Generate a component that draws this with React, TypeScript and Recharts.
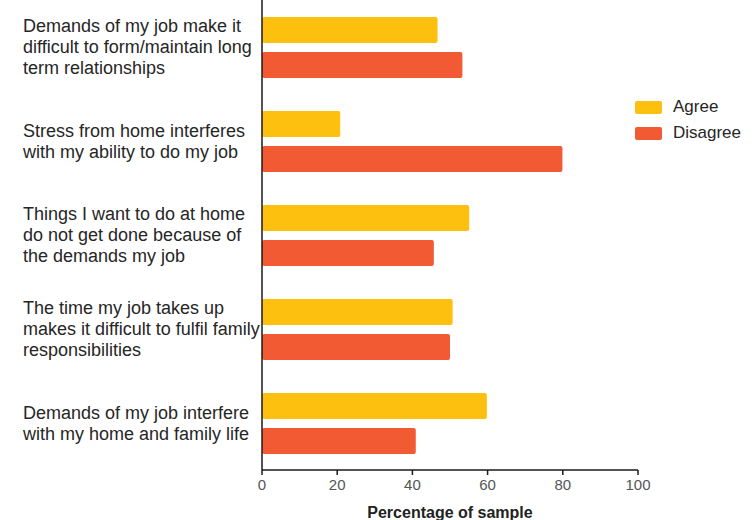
import React from 'react';
import { BarChart, Bar, XAxis, YAxis, Legend } from 'recharts';

const categories: string[] = [
  'Demands of my job make it\ndifficult to form/maintain long\nterm relationships',
  'Stress from home interferes\nwith my ability to do my job',
  'Things I want to do at home\ndo not get done because of\nthe demands my job',
  'The time my job takes up\nmakes it difficult to fulfil family\nresponsibilities',
  'Demands of my job interfere\nwith my home and family life',
];
const agree: number[] = [46.7, 20.8, 55.1, 50.7, 59.8];
const disagree: number[] = [53.3, 79.9, 45.7, 50.0, 40.9];
const xTicks: number[] = [0, 20, 40, 60, 80, 100];

const data = categories.map((name, i) => ({ name, Agree: agree[i], Disagree: disagree[i] }));

const FONT = '"Liberation Sans", Arial, Helvetica, sans-serif';
const AGREE_COLOR = '#FDC00F';
const DISAGREE_COLOR = '#F15A33';

const CategoryTick = (props: any) => {
  const { y, payload } = props;
  const lines: string[] = String(payload.value).split('\n');
  const lh = 21;
  const startDy = -((lines.length - 1) / 2) * lh;
  return (
    <text x={23} y={y} textAnchor="start" fill="#262626" fontSize={18} fontFamily={FONT}>
      {lines.map((l, i) => (
        <tspan key={i} x={23} dy={i === 0 ? startDy + 6 : lh}>
          {l}
        </tspan>
      ))}
    </text>
  );
};

const LegendContent = (props: any) => {
  const { payload } = props;
  return (
    <div style={{ fontFamily: FONT }}>
      {(payload || []).map((p: any, i: number) => (
        <div key={i} style={{ display: 'flex', alignItems: 'center', height: 26 }}>
          <span
            style={{
              display: 'inline-block',
              width: 27,
              height: 13,
              background: p.color,
              borderRadius: 2,
              marginRight: 11,
            }}
          />
          <span style={{ fontSize: 17, color: '#262626' }}>{p.value}</span>
        </div>
      ))}
    </div>
  );
};

export default function App() {
  return (
    <div style={{ position: 'absolute', left: 0, top: 0, background: '#fff' }}>
      <BarChart
        width={753}
        height={520}
        data={data}
        layout="vertical"
        margin={{ top: 0, right: 0, bottom: 0, left: 0 }}
        barGap={9}
        barSize={26}
      >
        <XAxis
          type="number"
          domain={[0, 100]}
          ticks={xTicks}
          height={50}
          tickSize={5}
          tickMargin={4}
          axisLine={{ stroke: '#1a1a1a', strokeWidth: 1.5 }}
          tickLine={{ stroke: '#1a1a1a', strokeWidth: 1.5 }}
          tick={{ fill: '#555', fontSize: 15, fontFamily: FONT }}
          label={{
            value: 'Percentage of sample',
            position: 'insideBottom',
            offset: 2,
            fill: '#222',
            fontSize: 16,
            fontWeight: 'bold',
            fontFamily: FONT,
          }}
        />
        <YAxis
          type="category"
          dataKey="name"
          width={262}
          axisLine={{ stroke: '#1a1a1a', strokeWidth: 1.5 }}
          tickLine={false}
          tick={<CategoryTick />}
          interval={0}
        />
        <Legend
          layout="vertical"
          align="right"
          verticalAlign="top"
          content={<LegendContent />}
          wrapperStyle={{ left: 635, top: 94, right: 'auto', width: 115 }}
        />
        <Bar dataKey="Agree" fill={AGREE_COLOR} radius={2} isAnimationActive={false} />
        <Bar dataKey="Disagree" fill={DISAGREE_COLOR} radius={2} isAnimationActive={false} />
      </BarChart>
    </div>
  );
}
